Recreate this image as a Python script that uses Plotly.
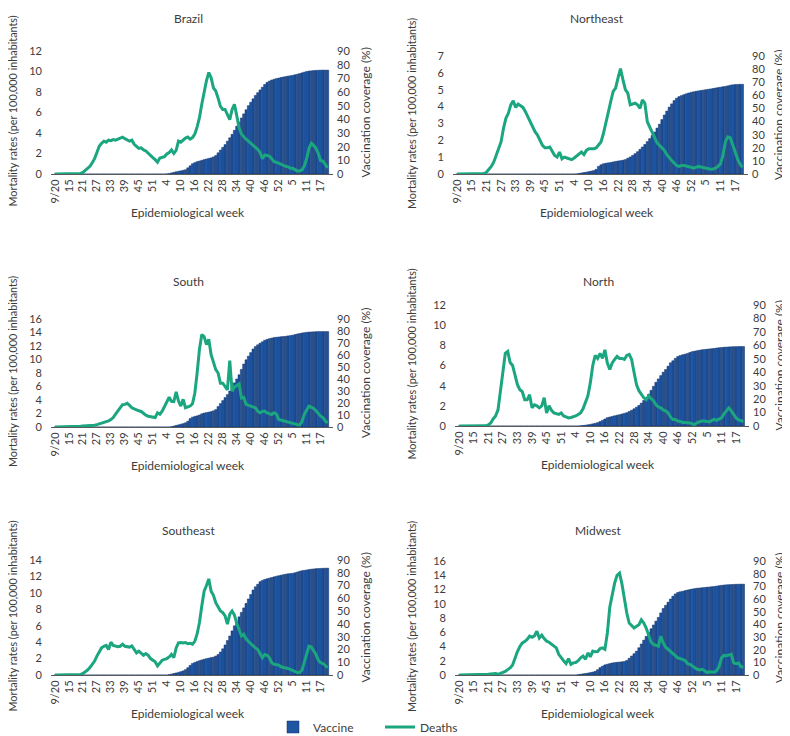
import plotly.graph_objects as go

# ---------------- data ----------------
tick_labels = ["9/20", "15", "21", "27", "33", "39", "45", "51", "4", "10",
               "16", "22", "28", "34", "40", "46", "52", "5", "11", "17"]

brazil_deaths = [
    0, 0, 0, 0, 0, 0, 0, 0, 0, 0.01,
    0.02, 0.05, 0.15, 0.35, 0.55, 0.75, 1.1, 1.5, 2.1, 2.7,
    3.0, 3.2, 3.1, 3.3, 3.25, 3.35, 3.3, 3.4, 3.45, 3.6,
    3.45, 3.3, 3.2, 3.3, 2.9, 2.7, 2.5, 2.55, 2.35, 2.25,
    2.0, 1.85, 1.6, 1.4, 1.15, 1.55, 1.6, 1.7, 1.95, 2.1,
    2.35, 2.0, 2.3, 3.2, 3.1, 3.35, 3.5, 3.6, 3.4, 3.55,
    3.9, 4.6, 5.5, 6.8, 8.0, 9.1, 9.9, 9.4, 8.4, 8.1,
    7.4, 6.6, 6.3, 6.3, 5.8, 5.3, 6.3, 6.8, 5.7, 4.5,
    3.9, 3.6, 3.4, 3.2, 3.0, 2.8, 2.6, 2.4, 2.1, 1.5,
    1.85, 1.8, 1.75, 1.5, 1.2, 1.15, 1.05, 0.9, 0.8, 0.75,
    0.7, 0.55, 0.55, 0.45, 0.3, 0.3, 0.4, 0.8, 1.5, 2.5,
    3.0, 2.8, 2.5, 2.0, 1.3, 1.25, 0.9, 0.6]
brazil_vaccine = [
    0, 0, 0, 0, 0, 0, 0, 0, 0, 0,
    0, 0, 0, 0, 0, 0, 0, 0, 0, 0,
    0, 0, 0, 0, 0, 0, 0, 0, 0, 0,
    0, 0, 0, 0, 0, 0, 0, 0, 0, 0,
    0, 0, 0, 0, 0, 0, 0, 0, 0.1, 0.3,
    0.8, 1.2, 1.6, 2.0, 2.3, 2.7, 3.1, 4.5, 6.0, 7.5,
    8.3, 9.0, 9.5, 10.0, 10.5, 11.0, 11.4, 11.8, 12.5, 13.5,
    15.5, 17.5, 19.5, 21.5, 24, 26.5, 29, 32, 35, 38,
    41, 44, 47, 50, 52.5, 55, 57.5, 59.5, 61.5, 63.5,
    65.5, 67, 68, 68.8, 69.3, 69.8, 70.2, 70.6, 71, 71.3,
    71.6, 71.9, 72.2, 72.6, 73.0, 73.5, 74.0, 74.5, 75.0, 75.3,
    75.5, 75.7, 75.8, 75.9, 76.0, 76.0, 76.0, 76.0]

northeast_deaths = [
    0, 0, 0, 0, 0, 0, 0, 0, 0, 0,
    0.01, 0.03, 0.1, 0.25, 0.45, 0.7, 1.1, 1.5, 1.9, 2.7,
    3.3, 3.6, 4.1, 4.35, 3.95, 4.15, 4.05, 3.95, 3.7, 3.4,
    3.0, 2.75, 2.5, 2.3, 2.0, 1.7, 1.55, 1.55, 1.6, 1.35,
    1.1, 1.0, 1.3, 0.9, 1.0, 0.95, 0.9, 0.85, 0.95, 1.05,
    1.2, 1.3, 1.15, 1.4, 1.5, 1.5, 1.5, 1.55, 1.75, 1.9,
    2.4, 3.1, 3.7, 4.3, 4.9, 5.1, 5.7, 6.25, 5.6, 5.0,
    4.8, 4.1, 4.15, 4.2, 4.1, 3.9, 4.4, 4.2, 3.1, 2.8,
    2.4, 2.1, 1.85, 1.7, 1.55, 1.4, 1.15, 0.95, 0.8, 0.65,
    0.5, 0.45, 0.5, 0.5, 0.48, 0.45, 0.4, 0.35, 0.42, 0.45,
    0.42, 0.38, 0.35, 0.3, 0.28, 0.3, 0.35, 0.45, 0.6, 1.1,
    1.9, 2.2, 2.15, 1.75, 1.3, 0.9, 0.6, 0.4]
northeast_vaccine = [
    0, 0, 0, 0, 0, 0, 0, 0, 0, 0,
    0, 0, 0, 0, 0, 0, 0, 0, 0, 0,
    0, 0, 0, 0, 0, 0, 0, 0, 0, 0,
    0, 0, 0, 0, 0, 0, 0, 0, 0, 0,
    0, 0, 0, 0, 0, 0, 0, 0, 0, 0.1,
    0.4, 0.8, 1.1, 1.4, 1.8, 2.2, 2.6, 3.5, 5.8, 7.0,
    7.8, 8.2, 8.5, 8.8, 9.2, 9.6, 9.9, 10.2, 10.5, 11,
    12, 13, 14.2, 15.5, 17, 18.8, 20.6, 22.5, 24.7, 27,
    29.5, 32, 35, 38, 41.5, 45, 48, 51, 53.5, 56,
    57.8, 59, 59.8, 60.5, 61.2, 61.8, 62.3, 62.7, 63.1, 63.4,
    63.7, 64, 64.3, 64.6, 64.9, 65.2, 65.6, 65.9, 66.2, 66.5,
    66.8, 67.2, 67.7, 68, 68.2, 68.3, 68.4, 68.4]

south_deaths = [
    0, 0, 0, 0, 0, 0, 0, 0, 0, 0,
    0.05, 0.1, 0.15, 0.15, 0.2, 0.2, 0.25, 0.25, 0.35, 0.45,
    0.55, 0.65, 0.75, 0.9, 1.1, 1.4, 1.9, 2.4, 2.9, 3.3,
    3.35, 3.5, 3.2, 2.85, 2.7, 2.5, 2.4, 2.3, 2.0, 1.75,
    1.6, 1.5, 1.4, 1.4, 2.1, 1.9, 2.35, 3.1, 3.6, 4.4,
    3.8, 3.75, 5.2, 3.85, 3.1, 4.1, 2.85, 3.0, 3.1, 3.45,
    5.0, 8.0, 11.5, 13.7, 13.4, 12.2, 13.0, 10.7, 9.5, 8.5,
    8.0, 6.5, 6.5, 6.0, 5.5, 9.85, 5.3, 5.9, 6.1, 6.4,
    4.3, 4.4, 3.35, 3.2, 3.1, 2.95, 2.85, 2.35, 2.1, 2.3,
    2.35, 2.1, 2.0, 1.85, 2.1, 1.9, 1.1, 1.0, 0.9, 0.8,
    0.65, 0.55, 0.45, 0.4, 0.35, 0.3, 0.8, 1.9, 2.6, 3.1,
    2.95, 2.75, 2.4, 2.0, 1.6, 1.4, 0.9, 0.6]
south_vaccine = [
    0, 0, 0, 0, 0, 0, 0, 0, 0, 0,
    0, 0, 0, 0, 0, 0, 0, 0, 0, 0,
    0, 0, 0, 0, 0, 0, 0, 0, 0, 0,
    0, 0, 0, 0, 0, 0, 0, 0, 0, 0,
    0, 0, 0, 0, 0, 0, 0, 0, 0, 0,
    0.3, 0.8, 1.3, 1.8, 2.3, 2.8, 3.5, 4.8, 7.0, 8.2,
    8.8, 9.3, 10, 11, 11.6, 12, 12.4, 12.8, 13.5, 14.5,
    17, 19.5, 22, 24.5, 27, 30, 33.5, 36.8, 40, 43.5,
    48, 52.5, 56, 59, 62, 65, 67, 68.5, 69.8, 71,
    72.3, 73, 73.6, 74.1, 74.5, 74.8, 75, 75.2, 75.4, 75.6,
    75.9, 76.2, 76.5, 77, 77.5, 77.9, 78.3, 78.6, 78.9, 79.1,
    79.2, 79.3, 79.4, 79.5, 79.5, 79.5, 79.5, 79.5]

north_deaths = [
    0, 0, 0, 0, 0, 0, 0, 0, 0, 0,
    0, 0.02, 0.1, 0.3, 0.7, 1.0, 1.6, 3.5, 5.5, 7.2,
    7.4, 6.3, 6.0, 5.0, 4.1, 3.6, 3.4, 2.6, 2.6, 3.1,
    1.8, 2.1, 2.0, 1.8, 2.0, 2.8, 1.3, 2.0, 1.55, 1.3,
    1.2, 1.15, 1.3, 1.0, 0.9, 0.8, 0.85, 0.9, 1.0, 1.15,
    1.3, 1.7, 2.3, 3.0, 4.3, 6.0, 7.0, 6.7, 7.2, 6.7,
    7.55, 6.25, 5.6, 6.25, 6.6, 6.9, 6.7, 6.7, 6.6, 7.0,
    7.1, 6.6, 5.3, 4.1, 3.5, 3.1, 2.8, 2.6, 3.0, 2.7,
    2.5, 2.1, 1.9, 1.8, 1.6, 1.5, 1.3, 0.9, 0.65, 0.65,
    0.5, 0.45, 0.35, 0.35, 0.35, 0.3, 0.2, 0.15, 0.35, 0.45,
    0.5, 0.5, 0.45, 0.4, 0.55, 0.65, 0.55, 0.7, 0.8, 1.2,
    1.5, 1.8, 1.5, 1.15, 0.8, 0.6, 0.5, 0.45]
north_vaccine = [
    0, 0, 0, 0, 0, 0, 0, 0, 0, 0,
    0, 0, 0, 0, 0, 0, 0, 0, 0, 0,
    0, 0, 0, 0, 0, 0, 0, 0, 0, 0,
    0, 0, 0, 0, 0, 0, 0, 0, 0, 0,
    0, 0, 0, 0, 0, 0, 0, 0, 0, 0,
    0.2, 0.4, 0.6, 0.9, 1.2, 1.6, 2.0, 2.5, 3.3, 4.2,
    5.2, 6.2, 6.7, 7.1, 7.6, 8.0, 8.4, 8.9, 9.4, 9.9,
    10.8, 11.7, 12.8, 14, 15.3, 17, 19, 21, 23.5, 26.5,
    29.5, 32.5, 35, 37.5, 40, 42, 44.5, 47, 48.5, 50.3,
    51.7, 52.4, 53, 53.4, 54, 54.7, 55.3, 55.7, 56, 56.4,
    56.7, 56.9, 57.1, 57.3, 57.5, 57.7, 58, 58.2, 58.4, 58.6,
    58.7, 58.8, 58.9, 59, 59, 59.1, 59.1, 59.1]

southeast_deaths = [
    0, 0, 0, 0, 0, 0, 0, 0, 0, 0,
    0.02, 0.05, 0.2, 0.35, 0.6, 0.9, 1.3, 1.7, 2.3, 2.9,
    3.3, 3.5, 3.6, 3.1, 4.0, 3.6, 3.5, 3.45, 3.5, 3.75,
    3.5, 3.45, 3.4, 3.55, 3.1, 2.7, 2.9, 2.7, 2.4, 2.6,
    2.4, 2.0, 1.8, 1.6, 1.1, 1.5, 1.8, 1.9, 2.0, 2.2,
    2.5, 2.1, 3.3, 3.9, 3.95, 3.9, 3.95, 3.8, 3.85, 3.75,
    4.1, 5.0, 6.4, 8.4, 10.2, 10.9, 11.7, 10.2, 9.7, 8.8,
    8.2, 7.8, 7.6, 7.2, 6.2, 7.4, 7.8, 7.3, 6.3, 5.4,
    4.75, 4.95, 4.4, 4.1, 3.8, 3.55, 3.3, 3.1, 2.6, 2.1,
    2.5, 2.4, 2.1, 1.5, 1.3, 1.25, 1.2, 1.0, 0.9, 0.85,
    0.8, 0.65, 0.5, 0.4, 0.3, 0.3, 0.6, 1.6, 2.7, 3.5,
    3.4, 3.0, 2.5, 1.8, 1.5, 1.4, 1.1, 0.9]
southeast_vaccine = [
    0, 0, 0, 0, 0, 0, 0, 0, 0, 0,
    0, 0, 0, 0, 0, 0, 0, 0, 0, 0,
    0, 0, 0, 0, 0, 0, 0, 0, 0, 0,
    0, 0, 0, 0, 0, 0, 0, 0, 0, 0,
    0, 0, 0, 0, 0, 0, 0, 0, 0, 0.3,
    0.7, 1.2, 1.6, 2.1, 2.6, 3.2, 4.2, 5.7, 7.5, 9.0,
    9.8, 10.5, 11.2, 11.8, 12.3, 12.8, 13.2, 13.6, 14.0, 14.8,
    16, 18, 20.5, 23.5, 27, 30.5, 34.5, 38.5, 42, 45.5,
    49, 52.5, 56, 59.5, 63, 66.5, 69, 71, 73, 74,
    74.8, 75.3, 75.8, 76.3, 76.8, 77.3, 77.7, 78.1, 78.5, 78.9,
    79.2, 79.4, 79.6, 80, 80.6, 81.2, 81.6, 81.9, 82.2, 82.5,
    82.8, 83, 83.2, 83.3, 83.4, 83.5, 83.6, 83.6]

midwest_deaths = [
    0, 0, 0, 0, 0, 0, 0, 0, 0, 0,
    0, 0.05, 0.1, 0.15, 0.2, 0.2, 0.1, 0.2, 0.35, 0.5,
    0.75, 1.0, 1.4, 2.4, 3.3, 4.0, 4.5, 4.7, 5.0, 5.45,
    5.3, 5.5, 6.15, 5.2, 5.6, 5.1, 4.75, 4.6, 4.3, 4.0,
    3.8, 2.9, 2.4, 2.0, 1.6, 2.3, 1.5, 1.7, 1.75, 2.0,
    2.4, 2.65, 2.2, 3.1, 2.55, 3.35, 3.25, 3.3, 3.7, 3.8,
    3.6, 5.9, 9.5, 11.5, 12.9, 14.0, 14.3, 12.8, 10.5, 8.7,
    7.3, 6.9, 6.6, 6.85, 7.05, 7.75, 7.3, 6.6, 5.45, 4.6,
    4.3, 4.15, 4.05, 5.45, 4.5, 3.9, 3.6, 3.2, 2.9, 2.65,
    2.4, 2.3, 2.2, 2.05, 1.6, 1.5, 1.25, 1.0, 0.8, 0.7,
    0.8, 0.6, 0.35, 0.45, 0.45, 0.4, 0.6, 1.2, 2.4, 2.75,
    2.7, 2.75, 2.9, 1.7, 1.6, 1.7, 1.15, 1.1]
midwest_vaccine = [
    0, 0, 0, 0, 0, 0, 0, 0, 0, 0,
    0, 0, 0, 0, 0, 0, 0, 0, 0, 0,
    0, 0, 0, 0, 0, 0, 0, 0, 0, 0,
    0, 0, 0, 0, 0, 0, 0, 0, 0, 0,
    0, 0, 0, 0, 0, 0, 0, 0, 0, 0.3,
    0.6, 0.9, 1.2, 1.5, 1.9, 2.3, 2.9, 4.2, 5.8, 7.0,
    8.0, 8.5, 9.0, 9.5, 9.8, 10.0, 10.2, 10.4, 10.7, 11.5,
    13.2, 15.0, 16.8, 18.8, 21.5, 24.5, 27.5, 30.5, 33.5, 36.5,
    39.5, 42.5, 45.5, 49, 52.5, 55, 57.5, 60, 62.2, 64,
    65.2, 65.7, 66.1, 66.6, 67.1, 67.5, 67.9, 68.2, 68.5, 68.7,
    68.9, 69.1, 69.3, 69.5, 69.7, 69.9, 70.2, 70.5, 70.8, 71.0,
    71.2, 71.3, 71.4, 71.5, 71.6, 71.7, 71.7, 71.7]

region_names = ["Brazil", "Northeast", "South", "North", "Southeast", "Midwest"]
deaths_series = [brazil_deaths, northeast_deaths, south_deaths,
                 north_deaths, southeast_deaths, midwest_deaths]
vaccine_series = [brazil_vaccine, northeast_vaccine, south_vaccine,
                  north_vaccine, southeast_vaccine, midwest_vaccine]
deaths_axis_max = [12, 7, 16, 12, 14, 16]
deaths_axis_step = [2, 1, 2, 2, 2, 2]

# ---------------- layout constants (pixels) ----------------
W, H = 790, 736
# plot boxes: (x0, x1, ytop, ybottom)
boxes = [(43, 325, 43, 166), (445, 740, 48, 166),
         (43, 325, 311, 419), (447, 741, 297, 418),
         (43, 325, 552, 667), (447, 741, 553, 667)]
title_y = [10, 10, 274, 274, 522, 522]
left_title_x = [4, 403, 4, 403, 4, 403]
right_title_x = [357, 771, 357, 771, 357, 771]

BAR = "#1f55a1"
BAR_EDGE = "#0d2f68"
LINE = "#1ba680"
TXT = "#3c3c3c"
FONT = "Lato"

fig = go.Figure()
layout = dict(width=W, height=H, margin=dict(l=0, r=0, t=0, b=0, pad=0, autoexpand=False),
              template="none",
              paper_bgcolor="white", plot_bgcolor="white",
              font=dict(family=FONT, size=11, color=TXT),
              barmode="overlay", bargap=0.08, showlegend=True)
annotations = []

tickvals = [6 * i for i in range(len(tick_labels))]

for k in range(6):
    x0, x1, yt, yb = boxes[k]
    xid = "x" if k == 0 else f"x{k+1}"
    yb_id = f"y{2*k+1}" if k > 0 else "y"
    yl_id = f"y{2*k+2}"
    xkey = "xaxis" if k == 0 else f"xaxis{k+1}"
    ybkey = "yaxis" if k == 0 else f"yaxis{2*k+1}"
    ylkey = f"yaxis{2*k+2}"
    n = len(deaths_series[k])
    xs = list(range(n))

    fig.add_trace(go.Bar(x=xs, y=vaccine_series[k], xaxis=xid, yaxis=yb_id,
                         name="Vaccine", showlegend=(k == 0), legendrank=1,
                         marker=dict(color=BAR, line=dict(color=BAR_EDGE, width=0.5))))
    fig.add_trace(go.Scatter(x=xs, y=deaths_series[k], xaxis=xid, yaxis=yl_id,
                             mode="lines", name="Deaths", showlegend=(k == 0),
                             legendrank=2,
                             line=dict(color=LINE, width=3)))

    xd = [x0 / W, x1 / W]
    yd = [1 - yb / H, 1 - yt / H]
    layout[xkey] = dict(domain=xd, anchor=yb_id, range=[-1.7, 119.3],
                        tickvals=tickvals, ticktext=tick_labels, tickangle=-90,
                        showgrid=False, zeroline=False, showline=True,
                        linecolor="#5a5a5a", linewidth=1, ticks="",
                        automargin=False,
                        tickfont=dict(size=11, color=TXT))
    layout[ybkey] = dict(domain=yd, anchor=xid, side="right", range=[0, 90],
                         dtick=10, tick0=0, showgrid=False, zeroline=False,
                         showline=False, ticks="", ticklabelstandoff=3,
                         automargin=False,
                         tickfont=dict(size=11, color=TXT))
    layout[ylkey] = dict(domain=yd, overlaying=yb_id, anchor=xid, side="left",
                         range=[0, deaths_axis_max[k]], dtick=deaths_axis_step[k],
                         tick0=0, showgrid=False, zeroline=False, showline=False,
                         ticks="", ticklabelstandoff=8, automargin=False,
                         tickfont=dict(size=11, color=TXT))

    cx = (x0 + x1) / 2 - 4
    cy = (yt + yb) / 2
    annotations.append(dict(text=region_names[k], x=cx / W, y=1 - title_y[k] / H,
                            xref="paper", yref="paper", showarrow=False,
                            xanchor="center", yanchor="middle",
                            font=dict(size=12, color=TXT)))
    annotations.append(dict(text="Epidemiological week", x=cx / W,
                            y=1 - (yb + 38) / H, xref="paper", yref="paper",
                            showarrow=False, xanchor="center", yanchor="middle",
                            font=dict(size=12, color=TXT)))
    annotations.append(dict(text="Mortality rates (per 100,000 inhabitants)",
                            x=left_title_x[k] / W, y=1 - (cy - 1) / H, xref="paper",
                            yref="paper", showarrow=False, textangle=-90,
                            xanchor="center", yanchor="middle",
                            font=dict(size=10.8, color=TXT)))
    annotations.append(dict(text="Vaccination coverage (%)",
                            x=right_title_x[k] / W, y=1 - cy / H, xref="paper",
                            yref="paper", showarrow=False, textangle=-90,
                            xanchor="center", yanchor="middle",
                            font=dict(size=12, color=TXT)))

layout["annotations"] = annotations
layout["legend"] = dict(orientation="h", x=265 / W, xanchor="left",
                        y=1 - 719 / H, yanchor="middle",
                        entrywidth=62, entrywidthmode="pixels",
                        font=dict(size=12, color=TXT),
                        bgcolor="rgba(0,0,0,0)", traceorder="normal")
fig.update_layout(**layout)
fig.write_html("out.html")
